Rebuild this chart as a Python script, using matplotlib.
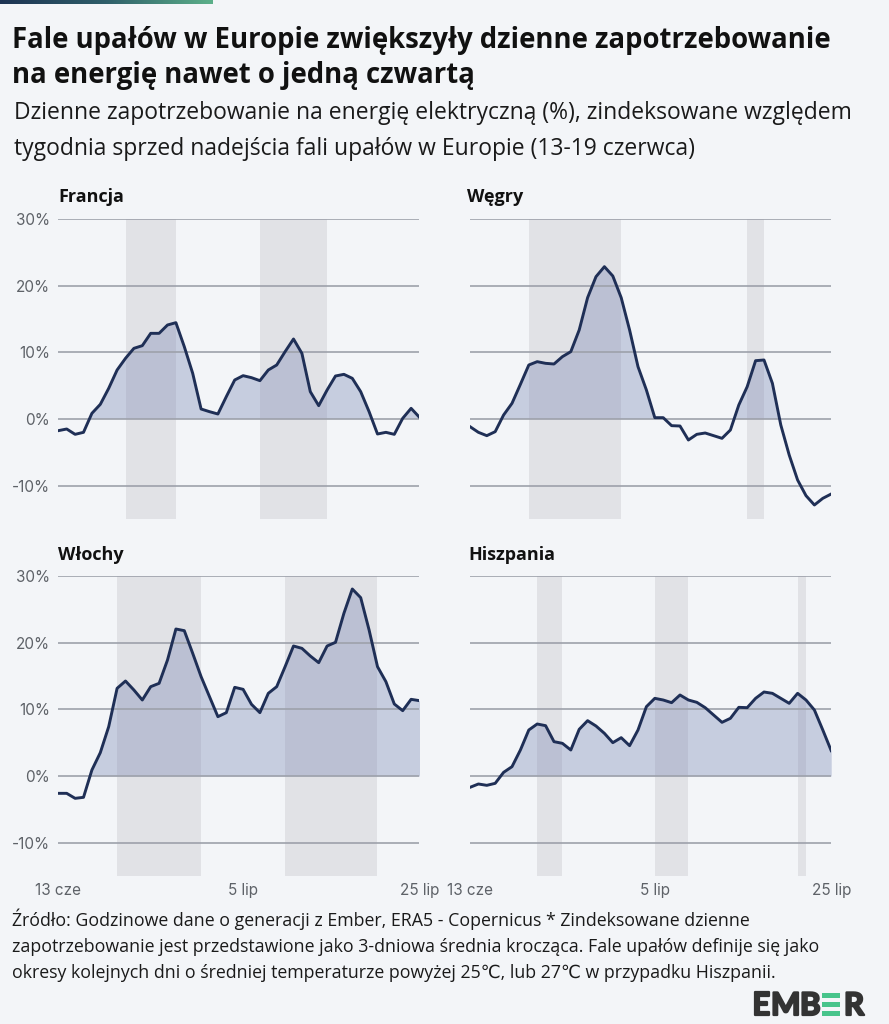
import numpy as np
import matplotlib
matplotlib.use("Agg")
import matplotlib.pyplot as plt
import matplotlib.patheffects as pe
from matplotlib.colors import LinearSegmentedColormap
from matplotlib.patches import Rectangle

# ---------------- data ----------------
countries = ["Francja", "Węgry", "Włochy", "Hiszpania"]

france = [-1.75, -1.5, -2.3, -2.0, 0.85, 2.2, 4.6, 7.35, 9.1, 10.6, 11.0, 12.85, 12.85, 14.1, 14.45,
          10.85, 6.85, 1.5, 1.1, 0.75, 3.35, 5.85, 6.5, 6.2, 5.75, 7.35, 8.1, 10.1, 12.0, 9.85,
          4.1, 2.0, 4.35, 6.45, 6.7, 6.1, 4.1, 1.1, -2.25, -2.0, -2.3, 0.1, 1.6, 0.25]
hungary = [-1.15, -2.0, -2.5, -1.9, 0.6, 2.35, 5.2, 8.1, 8.6, 8.35, 8.25, 9.35, 10.1, 13.35, 18.2,
           21.35, 22.85, 21.45, 18.2, 13.35, 7.85, 4.35, 0.2, 0.2, -1.0, -1.05, -3.15, -2.3, -2.1, -2.5,
           -2.9, -1.65, 2.1, 4.85, 8.75, 8.85, 5.35, -0.9, -5.4, -9.15, -11.5, -12.9, -11.9, -11.25]
italy = [-2.6, -2.6, -3.35, -3.2, 0.9, 3.5, 7.4, 13.15, 14.25, 12.9, 11.4, 13.4, 13.9, 17.4, 22.05,
         21.8, 18.4, 14.9, 11.9, 8.9, 9.5, 13.3, 13.0, 10.75, 9.5, 12.4, 13.4, 16.4, 19.5, 19.15,
         18.0, 17.0, 19.5, 20.05, 24.4, 28.05, 26.75, 21.9, 16.4, 14.15, 10.8, 9.8, 11.5, 11.3]
spain = [-1.7, -1.2, -1.4, -1.1, 0.55, 1.4, 3.9, 6.9, 7.8, 7.55, 5.15, 4.9, 3.9, 7.0, 8.3,
         7.5, 6.4, 5.0, 5.75, 4.55, 6.9, 10.4, 11.65, 11.4, 11.0, 12.15, 11.4, 11.05, 10.25, 9.15,
         8.05, 8.65, 10.3, 10.25, 11.65, 12.6, 12.4, 11.65, 10.9, 12.4, 11.4, 9.9, 6.9, 3.8]

# heatwave periods (day index from 13 June: start, end)
heat_france = [(8, 14), (24, 32)]
heat_hungary = [(7, 18), (33, 35)]
heat_italy = [(7, 17), (27, 38)]
heat_spain = [(8, 11), (22, 26), (39, 40)]

xtick_pos = [0, 22, 43]
xtick_labels = ["13 cze", "5 lip", "25 lip"]
ytick_vals = [-10, 0, 10, 20, 30]
ytick_labels = ["-10%", "0%", "10%", "20%", "30%"]

title_lines = ["Fale upałów w Europie zwiększyły dzienne zapotrzebowanie",
               "na energię nawet o jedną czwartą"]
subtitle_lines = ["Dzienne zapotrzebowanie na energię elektryczną (%), zindeksowane względem",
                  "tygodnia sprzed nadejścia fali upałów w Europie (13-19 czerwca)"]
footer_lines = ["Źródło: Godzinowe dane o generacji z Ember, ERA5 - Copernicus * Zindeksowane dzienne",
                "zapotrzebowanie jest przedstawione jako 3-dniowa średnia krocząca. Fale upałów definije się jako",
                "okresy kolejnych dni o średniej temperaturze powyżej 25℃, lub 27℃ w przypadku Hiszpanii."]

# ---------------- style ----------------
W, H = 889, 1024
BG = "#f3f5f8"
LINE = "#1f2f56"
FILL = "#7886b3"
SHADE = "#e1e2e6"
GRID = "#9da1ab"
TICK = "#5e6268"

plt.rcParams["font.family"] = ["Open Sans", "DejaVu Sans"]

fig = plt.figure(figsize=(W / 100, H / 100), dpi=100, facecolor=BG)

def fx(px):
    return px / W

def fy(py):
    return 1 - py / H

# gradient bar top-left
gax = fig.add_axes([0, fy(4), fx(213), 4 / H])
cmap = LinearSegmentedColormap.from_list("g", ["#1d3353", "#2f5f6a", "#5cb08a"])
gax.imshow(np.linspace(0, 1, 256)[None, :], aspect="auto", cmap=cmap)
gax.axis("off")

# titles
fig.text(fx(12), fy(48), title_lines[0], fontsize=19.8, fontweight="bold", color="#111111", va="baseline")
fig.text(fx(12), fy(83), title_lines[1], fontsize=19.8, fontweight="bold", color="#111111", va="baseline")
fig.text(fx(14), fy(119), subtitle_lines[0], fontsize=16.5, color="#1a1a1a", va="baseline")
fig.text(fx(14), fy(155), subtitle_lines[1], fontsize=16.5, color="#1a1a1a", va="baseline")

series = [france, hungary, italy, spain]
heats = [heat_france, heat_hungary, heat_italy, heat_spain]
lefts = [58.3, 470.0, 58.3, 470.0]
bottoms = [519.0, 519.0, 876.0, 876.0]
title_pos = [(58, 202), (467, 202), (58, 560), (468, 560)]
aw, ah = 361.2, 300.0

for i, (name, vals, hw) in enumerate(zip(countries, series, heats)):
    ax = fig.add_axes([fx(lefts[i]), fy(bottoms[i]), fx(aw), ah / H])
    ax.set_facecolor("none")
    y = np.array(vals)
    x = np.arange(len(y))
    for s, e in hw:
        ax.axvspan(s, e, color=SHADE, zorder=0, lw=0)
    ax.fill_between(x, 0, y, where=y >= 0, interpolate=True, color=FILL, alpha=0.36, lw=0, zorder=1)
    ax.plot(x, y, color=LINE, lw=2.1, zorder=3, solid_joinstyle="round")
    ax.set_xlim(0, len(y) - 1)
    ax.set_ylim(-15, 30)
    ax.set_yticks(ytick_vals)
    ax.grid(axis="y", color=GRID, lw=1.2, zorder=2)
    ax.set_axisbelow(False)
    for sp in ax.spines.values():
        sp.set_visible(False)
    ax.tick_params(length=0, colors=TICK, labelsize=11)
    if i % 2 == 0:
        ax.set_yticklabels(ytick_labels, family=["Inter", "DejaVu Sans"])
        ax.tick_params(axis="y", pad=6)
    else:
        ax.set_yticklabels([])
    ax.set_xticks(xtick_pos)
    if i >= 2:
        ax.set_xticklabels(xtick_labels, family=["Inter", "DejaVu Sans"])
        ax.tick_params(axis="x", pad=5)
    else:
        ax.set_xticklabels([])
    fig.text(fx(title_pos[i][0]), fy(title_pos[i][1]), name, fontsize=13, fontweight="bold",
             color="#111111", va="baseline")

# footer
for k, line in enumerate(footer_lines):
    fig.text(fx(12), fy(926 + 26 * k), line, fontsize=12.8, color="#1a1a1a", va="baseline")

# logo
logo_dark = "#333333"
logo_green = "#47c48b"
base = fy(1015)
for ch, px in [("E", 752), ("M", 771), ("B", 800), ("R", 844)]:
    fig.text(fx(px), base, ch, fontsize=22.5, fontweight="bold", color=logo_dark, va="baseline",
             family=["Lato", "DejaVu Sans"],
             path_effects=[pe.withStroke(linewidth=1.6, foreground=logo_dark)])
for yy in [993, 1002, 1011]:
    fig.add_artist(Rectangle((fx(822), fy(yy + 4.5)), fx(18), 4.5 / H, transform=fig.transFigure,
                             color=logo_green, lw=0))

fig.savefig("out.png", dpi=100, facecolor=BG)
